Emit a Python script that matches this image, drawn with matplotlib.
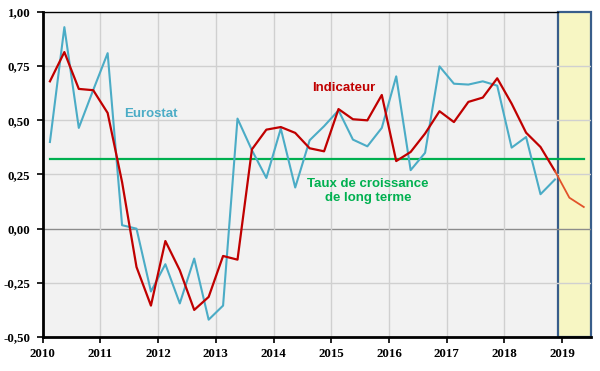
import numpy as np
import matplotlib
matplotlib.use("Agg")
import matplotlib.pyplot as plt
from matplotlib.patches import Rectangle

# ---- data (quarterly, starting 2010 Q1) ----
eurostat = [0.40, 0.93, 0.465, 0.64, 0.81, 0.016, 0.00, -0.29, -0.164, -0.345,
            -0.138, -0.42, -0.355, 0.508, 0.362, 0.234, 0.462, 0.19, 0.408, 0.473,
            0.546, 0.411, 0.38, 0.465, 0.703, 0.27, 0.35, 0.749, 0.669, 0.665,
            0.68, 0.66, 0.374, 0.423, 0.159, 0.227]
indicateur = [0.68, 0.815, 0.645, 0.639, 0.534, 0.215, -0.177, -0.355, -0.057, -0.192,
              -0.375, -0.315, -0.126, -0.143, 0.366, 0.457, 0.469, 0.442, 0.371, 0.357,
              0.552, 0.505, 0.50, 0.617, 0.312, 0.354, 0.439, 0.542, 0.492, 0.585,
              0.605, 0.694, 0.577, 0.443, 0.377, 0.266, 0.143, 0.10]
n_observed = 36          # quarters up to 2018 Q4, afterwards forecast
long_term_rate = 0.32
start_year = 2010
years = list(range(2010, 2020))
y_ticks = [-0.50, -0.25, 0.00, 0.25, 0.50, 0.75, 1.00]
forecast_start = 2018.92
x_max = 2019.5

def qx(n):
    return start_year + (np.arange(n) + 0.5) / 4.0

x_eu = qx(len(eurostat))
x_ind = qx(len(indicateur))

BLUE = "#4bacc6"
RED = "#c00000"
ORANGE = "#e2532a"
GREEN = "#00b050"

fig = plt.figure(figsize=(6.0, 3.71), dpi=100)
ax = fig.add_axes([0.0712, 0.0916, 0.9138, 0.8761])
ax.set_facecolor("#f2f2f2")
ax.set_xlim(start_year, x_max)
ax.set_ylim(y_ticks[0], y_ticks[-1])

# forecast zone
ax.add_patch(Rectangle((forecast_start, y_ticks[0]), x_max - forecast_start,
                       y_ticks[-1] - y_ticks[0], facecolor="#f7f6c3",
                       edgecolor="#385d8a", linewidth=1.6, zorder=0.3, clip_on=False))

# grid
for yv in y_ticks[1:-1]:
    ax.axhline(yv, color="#8c8c8c" if yv == 0 else "#d0d0d0",
               lw=1.0, zorder=0.5)
for yr in years[1:-1]:
    ax.axvline(yr, color="#d0d0d0", lw=1.0, zorder=0.5)

# long term line
ax.plot([x_ind[0], x_ind[-1]], [long_term_rate, long_term_rate], color=GREEN,
        lw=1.6, zorder=2)

# series
ax.plot(x_eu, eurostat, color=BLUE, lw=1.5, zorder=3)
ax.plot(x_ind[:n_observed], indicateur[:n_observed], color=RED, lw=1.6, zorder=4)
ax.plot(x_ind[n_observed - 1:], indicateur[n_observed - 1:], color=ORANGE, lw=1.3, zorder=4)

# annotations
ax.text(2011.877, 0.530, "Eurostat", color=BLUE, fontsize=9.5, fontweight="bold",
        family="Liberation Sans", ha="center", va="center")
ax.text(2015.216, 0.651, "Indicateur", color=RED, fontsize=9.5, fontweight="bold",
        family="Liberation Sans", ha="center", va="center")
ax.text(2015.638, 0.1735, "Taux de croissance\nde long terme", color=GREEN,
        fontsize=9.5, fontweight="bold", family="Liberation Sans",
        ha="center", va="center", linespacing=1.15)

# axes / spines
ax.spines["right"].set_visible(False)
ax.spines["top"].set_linewidth(1.0)
ax.spines["top"].set_bounds(start_year, forecast_start)
ax.spines["left"].set_linewidth(2.0)
ax.spines["bottom"].set_linewidth(2.0)
for s in ("left", "bottom", "top"):
    ax.spines[s].set_color("black")

ax.set_xticks(years)
ax.set_xticklabels([str(y) for y in years])
ax.set_yticks(y_ticks)
ax.set_yticklabels([("%.2f" % v).replace(".", ",") for v in y_ticks])
ax.tick_params(axis="both", direction="out", length=4, width=1.2, color="black",
               labelsize=9.3)
ax.tick_params(axis="x", pad=4)
ax.tick_params(axis="y", pad=5)
for lab in ax.get_xticklabels() + ax.get_yticklabels():
    lab.set_family("Liberation Serif")
    lab.set_fontweight("bold")
    lab.set_color("black")

fig.savefig("out.png", dpi=100)
